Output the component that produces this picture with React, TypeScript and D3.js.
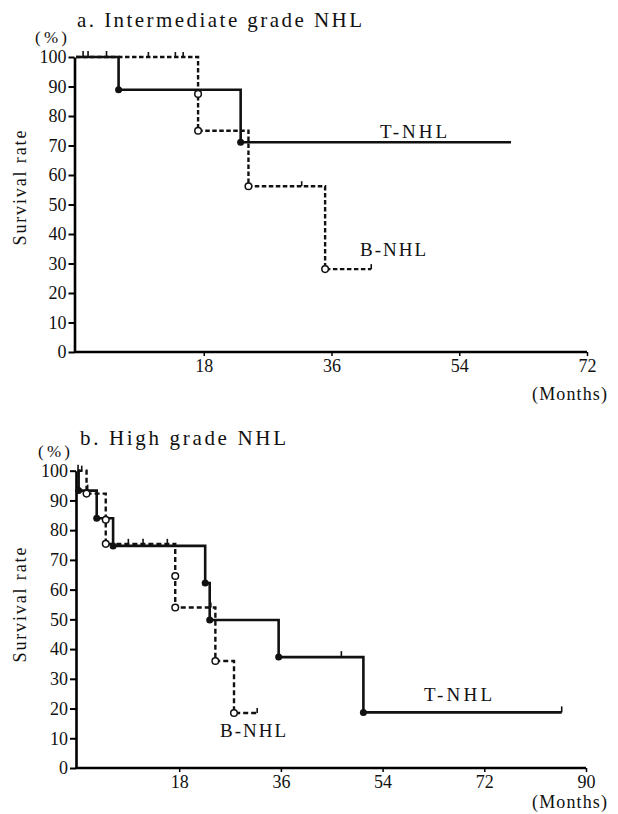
import React, { useEffect, useRef } from 'react';
import * as d3 from 'd3';

// panel a: intermediate grade
const aTMonths = [0, 6, 23.2];
const aTRates = [100, 88.9, 71.1];
const aTEnd = 61.3;
const aTCensor = [1, 1.7, 4.3];
const aBMonths = [0, 17.2, 17.2, 24.3, 35.1];
const aBRates = [100, 87.5, 75, 56.2, 28.1];
const aBEnd = 41.6;
const aBCensor = [10.2, 14, 15.1, 31.8, 41.6];
const aXTicks = [18, 36, 54, 72];

// panel b: high grade
const bTMonths = [0, 0.2, 3.4, 6.3, 22.6, 23.4, 35.6, 50.6];
const bTRates = [100, 93.3, 84, 74.7, 62.2, 49.8, 37.3, 18.7];
const bTEnd = 85.7;
const bTCensor = [0.1, 1.8, 46.7, 85.7];
const bBMonths = [0, 1.6, 5, 5, 17.3, 17.3, 24.4, 27.7];
const bBRates = [100, 92.3, 83.5, 75.4, 64.6, 54, 36, 18.5];
const bBEnd = 31.8;
const bBCensor = [0.75, 9, 11.6, 15.9, 23.6, 31.8];
const bXTicks = [18, 36, 54, 72, 90];

const yTicks = [0, 10, 20, 30, 40, 50, 60, 70, 80, 90, 100];
const FONT = '"Liberation Serif", "Times New Roman", serif';

const rateAt = (months, rates, m) => {
  let r = rates[0];
  months.forEach((t, i) => {
    if (t <= m) r = rates[i];
  });
  return r;
};

const Panel = ({ xRange, yRange, xMax, xTicks, tMonths, tRates, tEnd, tCensor, bMonths, bRates, bEnd, bCensor, dash, labels }) => {
  const xAxisRef = useRef();
  const yAxisRef = useRef();
  const x = d3.scaleLinear().domain([0, xMax]).range(xRange);
  const y = d3.scaleLinear().domain([0, 100]).range(yRange);

  useEffect(() => {
    const xa = d3.select(xAxisRef.current);
    xa.call(d3.axisBottom(x).tickValues(xTicks).tickSize(4).tickSizeOuter(0).tickPadding(3));
    xa.select('.domain').attr('stroke-width', 2.6).attr('d', `M${x(0) - 2},0H${x(xMax)}`);
    xa.selectAll('.tick line').attr('stroke-width', 1.5);
    xa.selectAll('text').attr('font-family', FONT).attr('font-size', 18).attr('fill', '#111');

    const ya = d3.select(yAxisRef.current);
    ya.call(d3.axisLeft(y).tickValues(yTicks).tickSize(6).tickSizeOuter(0).tickPadding(2));
    ya.select('.domain').attr('stroke-width', 2.6);
    ya.selectAll('.tick line').attr('stroke-width', 2);
    ya.selectAll('text').attr('font-family', FONT).attr('font-size', 18).attr('fill', '#111');
  });

  const line = d3.line().x((d) => x(d[0])).y((d) => y(d[1])).curve(d3.curveStepAfter);
  const tPts = tMonths.map((m, i) => [m, tRates[i]]).concat([[tEnd, tRates[tRates.length - 1]]]);
  const bPts = bMonths.map((m, i) => [m, bRates[i]]).concat([[bEnd, bRates[bRates.length - 1]]]);

  return (
    <g>
      <g ref={xAxisRef} transform={`translate(0,${yRange[0]})`} />
      <g ref={yAxisRef} transform={`translate(${x(0) - 1.5},0)`} />
      <path d={line(bPts)} fill="none" stroke="#111" strokeWidth={2.4} strokeDasharray={dash} />
      <path d={line(tPts)} fill="none" stroke="#111" strokeWidth={2.6} />
      {tCensor.map((m, i) => (
        <line key={'tc' + i} x1={x(m)} x2={x(m)} y1={y(rateAt(tMonths, tRates, m))} y2={y(rateAt(tMonths, tRates, m)) - 6} stroke="#111" strokeWidth={1.6} />
      ))}
      {bCensor.map((m, i) => (
        <line key={'bc' + i} x1={x(m)} x2={x(m)} y1={y(rateAt(bMonths, bRates, m))} y2={y(rateAt(bMonths, bRates, m)) - 5} stroke="#111" strokeWidth={1.6} />
      ))}
      {bMonths.slice(1).map((m, i) => (
        <circle key={'bo' + i} cx={x(m)} cy={y(bRates[i + 1])} r={3.3} fill="#fff" stroke="#111" strokeWidth={1.5} />
      ))}
      {tMonths.slice(1).map((m, i) => (
        <circle key={'tf' + i} cx={x(m)} cy={y(tRates[i + 1])} r={3.5} fill="#111" />
      ))}
      {labels.map((l, i) => (
        <text key={'l' + i} x={l.x} y={l.y} fontFamily={FONT} fontSize={l.size || 18} textLength={l.len} lengthAdjust="spacing" fill="#111" transform={l.rot ? `rotate(-90,${l.x},${l.y})` : undefined} textAnchor={l.anchor || 'start'}>
          {l.text}
        </text>
      ))}
    </g>
  );
};

const App = () => {
  return (
    <svg width={618} height={814} style={{ position: 'absolute', left: 0, top: 0, background: '#fff' }}>
      <rect width={618} height={814} fill="#fff" />
      <Panel
        xRange={[76, 587]}
        yRange={[352, 57]}
        xMax={72}
        xTicks={aXTicks}
        tMonths={aTMonths}
        tRates={aTRates}
        tEnd={aTEnd}
        tCensor={aTCensor}
        bMonths={aBMonths}
        bRates={aBRates}
        bEnd={aBEnd}
        bCensor={aBCensor}
        dash="4.5 2.5"
        labels={[
          { text: 'a. Intermediate grade NHL', x: 77, y: 27, size: 21, len: 285 },
          { text: '(%)', x: 35, y: 43, size: 17, len: 32 },
          { text: 'Survival rate', x: 26, y: 188, size: 18, rot: true, anchor: 'middle', len: 115 },
          { text: 'T-NHL', x: 380, y: 138, size: 19, len: 67 },
          { text: 'B-NHL', x: 360, y: 256, size: 19, len: 66 },
          { text: '(Months)', x: 532, y: 400, size: 18, len: 75 },
        ]}
      />
      <Panel
        xRange={[77.5, 586]}
        yRange={[768, 470.7]}
        xMax={90}
        xTicks={bXTicks}
        tMonths={bTMonths}
        tRates={bTRates}
        tEnd={bTEnd}
        tCensor={bTCensor}
        bMonths={bBMonths}
        bRates={bBRates}
        bEnd={bBEnd}
        bCensor={bBCensor}
        dash="5 3"
        labels={[
          { text: 'b. High grade NHL', x: 80, y: 445, size: 21, len: 206 },
          { text: '(%)', x: 38, y: 457, size: 17, len: 32 },
          { text: 'Survival rate', x: 26, y: 605, size: 18, rot: true, anchor: 'middle', len: 115 },
          { text: 'T-NHL', x: 424, y: 701, size: 19, len: 68 },
          { text: 'B-NHL', x: 220, y: 737, size: 19, len: 66 },
          { text: '(Months)', x: 532, y: 808, size: 18, len: 75 },
        ]}
      />
    </svg>
  );
};

export default App;
